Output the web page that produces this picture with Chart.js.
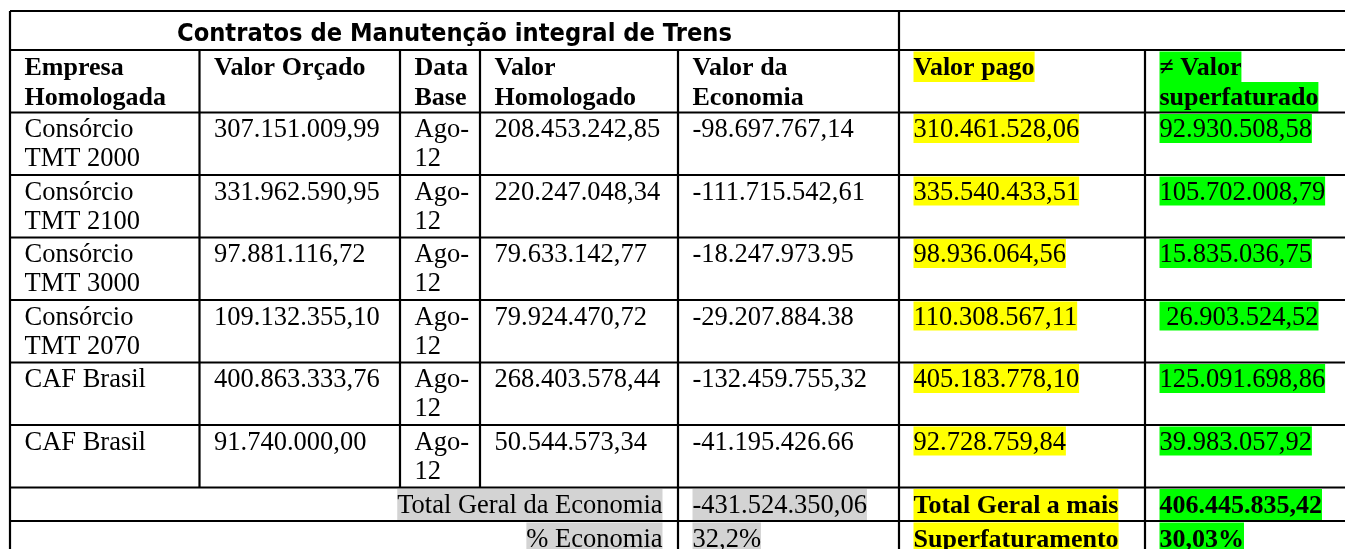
<!DOCTYPE html>
<html>
<head>
<meta charset="utf-8">
<script src="https://cdn.jsdelivr.net/npm/chart.js@4.4.1/dist/chart.umd.min.js"></script>
<style>
html, body { margin: 0; padding: 0; background: #fff; }
canvas { display: block; }
</style>
</head>
<body>
<canvas id="tabelaContratos" width="1345" height="549"></canvas>
<script>
// dados da tabela
var titulo = "Contratos de Manutenção integral de Trens";
var cabecalhos = ["Empresa\nHomologada", "Valor Orçado", "Data\nBase", "Valor\nHomologado", "Valor da\nEconomia", "Valor pago", "≠ Valor\nsuperfaturado"];
var empresas = ["Consórcio\nTMT 2000", "Consórcio\nTMT 2100", "Consórcio\nTMT 3000", "Consórcio\nTMT 2070", "CAF Brasil", "CAF Brasil"];
var valorOrcado = ["307.151.009,99", "331.962.590,95", "97.881.116,72", "109.132.355,10", "400.863.333,76", "91.740.000,00"];
var dataBase = ["Ago-\n12", "Ago-\n12", "Ago-\n12", "Ago-\n12", "Ago-\n12", "Ago-\n12"];
var valorHomologado = ["208.453.242,85", "220.247.048,34", "79.633.142,77", "79.924.470,72", "268.403.578,44", "50.544.573,34"];
var valorEconomia = ["-98.697.767,14", "-111.715.542,61", "-18.247.973.95", "-29.207.884.38", "-132.459.755,32", "-41.195.426.66"];
var valorPago = ["310.461.528,06", "335.540.433,51", "98.936.064,56", "110.308.567,11", "405.183.778,10", "92.728.759,84"];
var valorSuperfaturado = ["92.930.508,58", "105.702.008,79", "15.835.036,75", " 26.903.524,52", "125.091.698,86", "39.983.057,92"];
var rotulosTotais = ["Total Geral da Economia", "% Economia"];
var totaisEconomia = ["-431.524.350,06", "32,2%"];
var rotulosAMais = ["Total Geral a mais", "Superfaturamento"];
var totaisAMais = ["406.445.835,42", "30,03%"];

// layout (bordas das colunas e linhas, em unidades das escalas)
var colunas = [10, 199.5, 400, 480, 678, 899, 1145, 1348];
var linhas = [11, 50, 112.5, 175, 237.5, 300, 362.5, 425, 487.5, 521, 556];
var pad = 14.5;
var fonteTexto = '26.5px "Liberation Serif", "Times New Roman", serif';
var fonteNegrito = 'bold 26px "Liberation Serif", "Times New Roman", serif';
var amarelo = "#ffff00", verde = "#00ff00", cinza = "#d3d3d3";

function escreve(ctx, texto, x, yTopo, fonte, fundo, direita, base, alt, offFundo) {
    var partes = texto.split("\n");
    ctx.font = fonte;
    for (var i = 0; i < partes.length; i++) {
        var w = ctx.measureText(partes[i]).width;
        var xi = direita ? x - w : x;
        if (fundo) {
            ctx.fillStyle = fundo;
            ctx.fillRect(xi, yTopo + offFundo + i * alt, w, alt);
        }
        ctx.fillStyle = "#000";
        ctx.fillText(partes[i], xi, yTopo + base + i * alt);
    }
}

var pluginTabela = {
    id: "tabela",
    afterDraw: function(chart) {
        var ctx = chart.ctx, sx = chart.scales.x, sy = chart.scales.y;
        function px(v) { return sx.getPixelForValue(v); }
        function py(v) { return sy.getPixelForValue(v); }
        ctx.save();
        ctx.textBaseline = "alphabetic";

        // titulo
        ctx.font = 'bold 24px "Comic Sans MS", "DejaVu Sans", sans-serif';
        var wt = ctx.measureText(titulo).width;
        var cx = (px(colunas[0]) + px(colunas[5])) / 2;
        ctx.save();
        ctx.translate(cx, py(linhas[0]) + 30);
        ctx.scale(555 / wt, 1);
        ctx.fillStyle = "#000";
        ctx.textAlign = "center";
        ctx.fillText(titulo, 0, 0);
        ctx.restore();

        // cabecalho
        var fundosCab = [null, null, null, null, null, amarelo, verde];
        for (var c = 0; c < cabecalhos.length; c++) {
            escreve(ctx, cabecalhos[c], px(colunas[c]) + pad, py(linhas[1]), fonteNegrito, fundosCab[c], false, 24.5, 30.5, 1.5);
        }

        // linhas de dados
        var series = [empresas, valorOrcado, dataBase, valorHomologado, valorEconomia, valorPago, valorSuperfaturado];
        var fundos = [null, null, null, null, null, amarelo, verde];
        for (var r = 0; r < empresas.length; r++) {
            for (var c2 = 0; c2 < series.length; c2++) {
                escreve(ctx, series[c2][r], px(colunas[c2]) + pad, py(linhas[r + 2]), fonteTexto, fundos[c2], false, 24.5, 29, 1.5);
            }
        }

        // totais
        for (var t = 0; t < rotulosTotais.length; t++) {
            var yt = py(linhas[8 + t]);
            escreve(ctx, rotulosTotais[t], px(colunas[4]) - pad - 1, yt, fonteTexto, cinza, true, 25.5, 32, 1.5);
            escreve(ctx, totaisEconomia[t], px(colunas[4]) + pad, yt, fonteTexto, cinza, false, 25.5, 32, 1.5);
            escreve(ctx, rotulosAMais[t], px(colunas[5]) + pad, yt, fonteNegrito, amarelo, false, 25.5, 32, 1.5);
            escreve(ctx, totaisAMais[t], px(colunas[6]) + pad, yt, fonteNegrito, verde, false, 25.5, 32, 1.5);
        }

        // grade
        ctx.strokeStyle = "#000";
        ctx.lineWidth = 2.2;
        ctx.beginPath();
        for (var h = 0; h < linhas.length; h++) {
            ctx.moveTo(px(colunas[0]), py(linhas[h]));
            ctx.lineTo(px(colunas[colunas.length - 1]), py(linhas[h]));
        }
        for (var v = 0; v < colunas.length; v++) {
            var semTitulo = (v === 0 || v === 5 || v === colunas.length - 1);
            var noTotal = (v === 0 || v >= 4);
            if (semTitulo) {
                ctx.moveTo(px(colunas[v]), py(linhas[0]));
                ctx.lineTo(px(colunas[v]), py(linhas[1]));
            }
            ctx.moveTo(px(colunas[v]), py(linhas[1]));
            ctx.lineTo(px(colunas[v]), py(linhas[8]));
            if (noTotal) {
                ctx.moveTo(px(colunas[v]), py(linhas[8]));
                ctx.lineTo(px(colunas[v]), py(linhas[10]));
            }
        }
        ctx.stroke();
        ctx.restore();
    }
};

var ctx = document.getElementById("tabelaContratos").getContext("2d");
var tabela = new Chart(ctx, {
    type: "scatter",
    data: { datasets: [] },
    options: {
        responsive: false,
        animation: false,
        layout: { padding: 0 },
        plugins: { legend: { display: false }, tooltip: { enabled: false } },
        scales: {
            x: { type: "linear", min: 0, max: 1345, display: false },
            y: { type: "linear", min: 0, max: 549, reverse: true, display: false }
        }
    },
    plugins: [pluginTabela]
});
</script>
</body>
</html>
